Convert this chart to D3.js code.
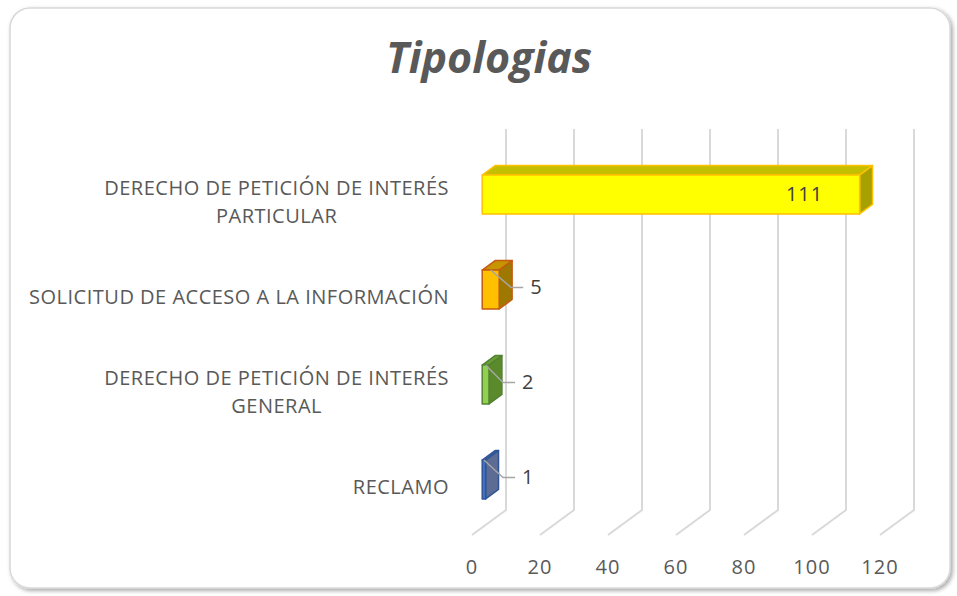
<!DOCTYPE html>
<html>
<head>
<meta charset="utf-8">
<script src="https://cdn.jsdelivr.net/npm/d3@7"></script>
<style>
  body { margin: 0; background: #fff; }
  text { font-family: "Open Sans", sans-serif; fill: #595959; }
</style>
</head>
<body>
<div class="chart"></div>
<script>
// data (top to bottom as drawn)
const categories = [
    ["DERECHO DE PETICIÓN DE INTERÉS", "PARTICULAR"],
    ["SOLICITUD DE ACCESO A LA INFORMACIÓN"],
    ["DERECHO DE PETICIÓN DE INTERÉS", "GENERAL"],
    ["RECLAMO"]
];
const values = [111, 5, 2, 1];
const ticks = [0, 20, 40, 60, 80, 100, 120];

const colors = [
    { front: "#FFFF00", top: "#C4BF00", side: "#A6A100", stroke: "#FFC000" },
    { front: "#FFC000", top: "#C79400", side: "#9E7800", stroke: "#C55A11" },
    { front: "#92D050", top: "#6A9E36", side: "#5A8A2C", stroke: "#548235" },
    { front: "#4472C4", top: "#4F6597", side: "#5D6C93", stroke: "#2F5597" }
];

const W = 957, H = 596;
const svg = d3.select(".chart").append("svg")
    .attr("width", W).attr("height", H);

// frame with soft shadow
const defs = svg.append("defs");
const f = defs.append("filter").attr("id", "shadow")
    .attr("x", "-5%").attr("y", "-5%").attr("width", "110%").attr("height", "110%");
f.append("feDropShadow").attr("dx", 2).attr("dy", 2).attr("stdDeviation", 2)
    .attr("flood-color", "#000").attr("flood-opacity", 0.35);

svg.append("rect")
    .attr("x", 10).attr("y", 8).attr("width", 940).attr("height", 580)
    .attr("rx", 20)
    .attr("fill", "#fff").attr("stroke", "#D9D9D9").attr("stroke-width", 1.5)
    .attr("filter", "url(#shadow)");

svg.append("text")
    .attr("x", 489).attr("y", 73)
    .attr("text-anchor", "middle")
    .style("font-size", "43px").style("font-weight", "bold").style("font-style", "italic")
    .text("Tipologias");

// 3D projection: front plane x scale + depth offset
const depthX = 34, depthY = -25;
const xScale = d3.scaleLinear().domain([0, 120]).range([472, 880]);
const yScale = d3.scaleBand()
    .domain(d3.range(categories.length))
    .range([154.5, 534.5])
    .paddingInner(0.59).paddingOuter(0.295);

const wallTop = 129, floorFront = 535;
const P = (v, depth, y) => [xScale(v) + depth * depthX, y + depth * depthY];

// gridlines: back wall + floor
const grid = svg.append("g");
ticks.forEach(t => {
    const back = P(t, 1, floorFront);
    grid.append("path")
        .attr("d", d3.line()([[back[0], wallTop], back, P(t, 0, floorFront)]))
        .attr("fill", "none").attr("stroke", "#D9D9D9").attr("stroke-width", 2);
});

// x tick labels
svg.append("g").selectAll("text")
    .data(ticks).join("text")
    .attr("x", d => xScale(d)).attr("y", 574)
    .attr("text-anchor", "middle")
    .style("font-size", "20px").style("letter-spacing", "1px")
    .text(d => d);

// category labels (centered block, right edge at 449)
const catG = svg.append("g");
categories.forEach((lines, i) => {
    const cy = yScale(i) + yScale.bandwidth() / 2;
    const t = catG.append("text").style("font-size", "20px").style("letter-spacing", "0.5px");
    const lh = 28;
    lines.forEach((l, j) => {
        t.append("tspan").attr("x", 0)
            .attr("y", cy + 7 + (j - (lines.length - 1) / 2) * lh)
            .text(l);
    });
    const w = t.node().getBBox().width;
    t.attr("text-anchor", "middle").selectAll("tspan").attr("x", 449 - w / 2);
});

// bars
const d1 = 0.3, d2 = 0.68;
const bars = svg.append("g");
values.forEach((v, i) => {
    const c = colors[i];
    const y0 = yScale(i), y1 = y0 + yScale.bandwidth();
    const a = P(0, d1, y0), b = P(v, d1, y0), bb = P(v, d1, y1), ab = P(0, d1, y1);
    const a2 = P(0, d2, y0), b2 = P(v, d2, y0), bb2 = P(v, d2, y1);
    const g = bars.append("g").attr("stroke", c.stroke).attr("stroke-width", 1.5)
        .attr("stroke-linejoin", "round");
    g.append("path").attr("d", d3.line()([a, a2, b2, b]) + "Z").attr("fill", c.top);
    g.append("path").attr("d", d3.line()([b, b2, bb2, bb]) + "Z").attr("fill", c.side);
    g.append("path").attr("d", d3.line()([a, b, bb, ab]) + "Z").attr("fill", c.front);

    const fy = (a[1] + ab[1]) / 2;
    if (v > 20) {
        svg.append("text")
            .attr("x", b[0] - 55).attr("y", fy + 1)
            .attr("text-anchor", "middle").attr("dominant-baseline", "middle")
            .style("font-size", "20px").style("letter-spacing", "1px").style("fill", "#404040")
            .text(v);
    } else {
        const sx = (a[0] + b[0]) / 2;
        const ex = Math.max(b[0] + 12, 503);
        const ey = fy - 2;
        svg.append("path")
            .attr("d", d3.line()([[sx, a[1]], [ex, ey], [ex + 12, ey]]))
            .attr("fill", "none").attr("stroke", "#A6A6A6").attr("stroke-width", 1.5);
        svg.append("text")
            .attr("x", ex + 19).attr("y", ey + 1)
            .attr("dominant-baseline", "middle")
            .style("font-size", "20px").style("fill", "#404040")
            .text(v);
    }
});
</script>
</body>
</html>
